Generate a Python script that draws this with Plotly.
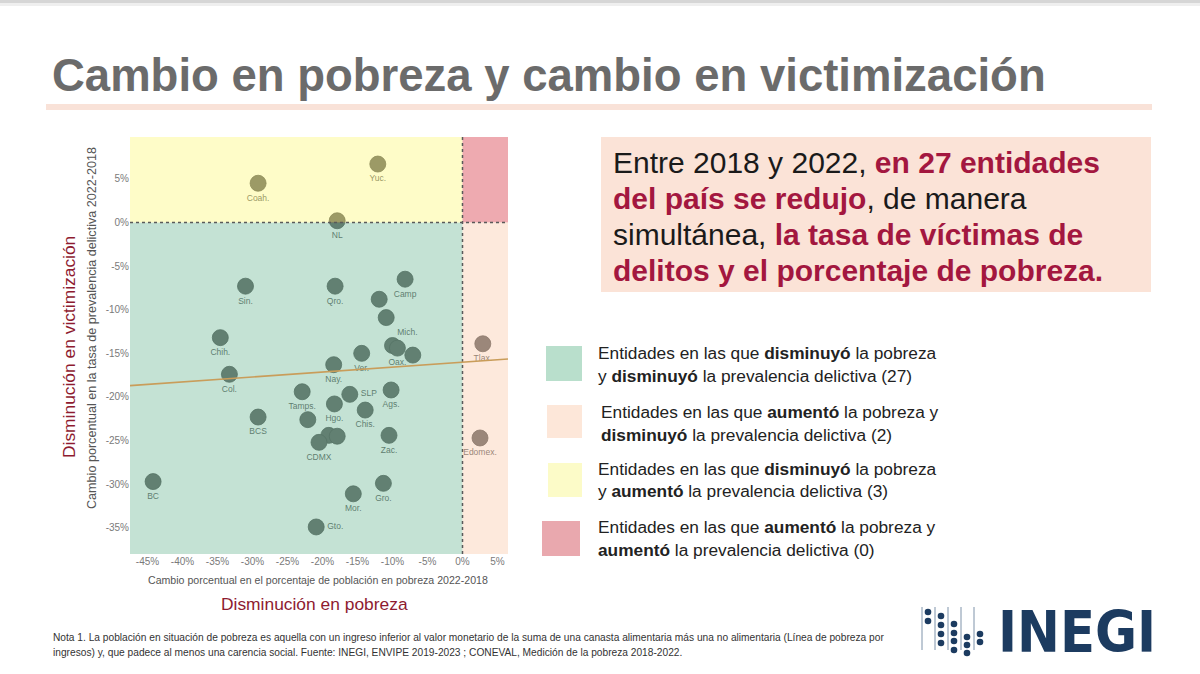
import plotly.graph_objects as go

W, H = 1200, 674

# ---------------- data ----------------
states = ["Coah.", "Yuc.", "NL", "Sin.", "Qro.", "Camp", "", "Mich.", "Chih.", "",
          "Oax.", "", "Ver.", "Nay.", "Col.", "Tamps.", "SLP", "Ags.", "Hgo.", "Chis.",
          "BCS", "", "Zac.", "", "", "CDMX", "BC", "Mor.", "Gro.", "Gto.",
          "Tlax.", "Edomex."]
pobreza = [-29.2, -12.1, -17.9, -31.0, -18.2, -8.2, -11.9, -10.9, -34.6, -10.0,
           -9.3, -7.1, -14.4, -18.4, -33.3, -22.9, -16.1, -10.2, -18.3, -13.9,
           -29.2, -22.1, -10.5, -19.1, -17.9, -20.5, -44.2, -15.6, -11.3, -20.9,
           2.9, 2.5]
victim = [4.5, 6.7, 0.2, -7.3, -7.3, -6.5, -8.8, -10.9, -13.2, -14.1,
          -14.4, -15.2, -15.0, -16.3, -17.4, -19.4, -19.7, -19.2, -20.8, -21.5,
          -22.3, -22.6, -24.4, -24.4, -24.5, -25.2, -29.7, -31.1, -29.9, -34.9,
          -13.9, -24.7]

trend_x = [-47.5, 6.5]
trend_y = [-18.7, -15.65]

x_ticks = [-45, -40, -35, -30, -25, -20, -15, -10, -5, 0, 5]
x_tick_labels = ["-45%", "-40%", "-35%", "-30%", "-25%", "-20%", "-15%", "-10%", "-5%", "0%", "5%"]
y_ticks = [5, 0, -5, -10, -15, -20, -25, -30, -35]
y_tick_labels = ["5%", "0%", "-5%", "-10%", "-15%", "-20%", "-25%", "-30%", "-35%"]

legend_counts = [27, 2, 3, 0]

x_range = [-47.5, 6.5]
y_range = [-38.0, 9.8]

# ---------------- helpers ----------------
def px(x):
    return x / W

def py(y):
    return 1 - y / H

label_pos = {"SLP": "middle right", "Gto.": "middle right", "Mich.": "bottom right"}
text_positions = [label_pos.get(s, "bottom center") for s in states]

RED = "#a3173f"
DARKRED = "#8e1b30"

fig = go.Figure()

fig.add_trace(go.Scatter(
    x=pobreza, y=victim, mode="markers+text", text=states,
    textposition=text_positions,
    textfont=dict(family="Arial, Liberation Sans", size=8.5, color="#333333"),
    marker=dict(size=16, color="#3a3a3a", line=dict(color="#222222", width=0.8)),
    hoverinfo="text", showlegend=False, cliponaxis=False,
))

shapes = []
# quadrant overlays (semi-transparent, above markers)
quads = [
    (x_range[0], 0, y_range[0], 0, "rgba(137,197,169,0.5)"),
    (x_range[0], 0, 0, y_range[1], "rgba(253,249,145,0.5)"),
    (0, x_range[1], 0, y_range[1], "rgba(221,85,97,0.5)"),
    (0, x_range[1], y_range[0], 0, "rgba(251,211,185,0.5)"),
]
for x0, x1, y0, y1, c in quads:
    shapes.append(dict(type="rect", xref="x", yref="y", x0=x0, x1=x1, y0=y0, y1=y1,
                       fillcolor=c, line=dict(width=0), layer="above"))
# dotted zero lines
shapes.append(dict(type="line", xref="x", yref="y", x0=0, x1=0, y0=y_range[0], y1=y_range[1],
                   line=dict(color="#5a5a5a", width=1.5, dash="dot"), layer="above"))
shapes.append(dict(type="line", xref="x", yref="y", x0=x_range[0], x1=x_range[1], y0=0, y1=0,
                   line=dict(color="#5a5a5a", width=1.5, dash="dot"), layer="above"))
# trend line
shapes.append(dict(type="line", xref="x", yref="y", x0=trend_x[0], x1=trend_x[1],
                   y0=trend_y[0], y1=trend_y[1],
                   line=dict(color="#c99d5a", width=1.6), layer="above"))

# top shadow and title underline
shapes.append(dict(type="rect", xref="paper", yref="paper", x0=0, x1=1, y0=py(3), y1=py(0),
                   fillcolor="#d6d6d6", line=dict(width=0), layer="below"))
shapes.append(dict(type="rect", xref="paper", yref="paper", x0=0, x1=1, y0=py(6), y1=py(3),
                   fillcolor="#efefef", line=dict(width=0), layer="below"))
shapes.append(dict(type="rect", xref="paper", yref="paper", x0=px(46), x1=px(1152),
                   y0=py(110), y1=py(104), fillcolor="#f9e2d8", line=dict(width=0), layer="below"))
# highlighted text box
shapes.append(dict(type="rect", xref="paper", yref="paper", x0=px(601), x1=px(1151),
                   y0=py(292), y1=py(137), fillcolor="#fbe3d7", line=dict(width=0), layer="below"))

# legend squares
legend_boxes = [
    (546, 582, 346, 381, "#b9dfcc"),
    (547, 582, 405, 438, "#fde7d9"),
    (548, 582, 463, 497, "#fcfbc8"),
    (542, 580, 521, 556, "#e9a8ae"),
]
for x0, x1, y0, y1, c in legend_boxes:
    shapes.append(dict(type="rect", xref="paper", yref="paper", x0=px(x0), x1=px(x1),
                       y0=py(y1), y1=py(y0), fillcolor=c, line=dict(width=0), layer="below"))

# INEGI logo pattern
logo_lines_x = [922, 935, 948, 961, 974]
for lx in logo_lines_x:
    shapes.append(dict(type="line", xref="paper", yref="paper", x0=px(lx), x1=px(lx),
                       y0=py(650), y1=py(607), line=dict(color="#7f93aa", width=1)))
logo_dots = [(928, 612), (928, 621),
             (941, 616), (941, 625), (941, 634), (941, 643),
             (954, 624), (954, 633), (954, 641), (954, 650),
             (967, 637), (967, 645), (967, 653),
             (980, 634), (980, 642)]
for dx, dy in logo_dots:
    r = 3.3
    shapes.append(dict(type="circle", xref="paper", yref="paper",
                       x0=px(dx - r), x1=px(dx + r), y0=py(dy + r), y1=py(dy - r),
                       fillcolor="#1c3b60", line=dict(width=0)))

annotations = []

def ann(text, x, y, size, color="#222222", xanchor="left", yanchor="middle", family="Arial, Liberation Sans", angle=0):
    annotations.append(dict(text=text, x=px(x), y=py(y), xref="paper", yref="paper",
                            showarrow=False, xanchor=xanchor, yanchor=yanchor, textangle=angle,
                            font=dict(family=family, size=size, color=color)))

# title
ann("<b>Cambio en pobreza y cambio en victimización</b>", 50, 75, 45.5, color="#6b6b6b")

# axis titles
ann("Cambio porcentual en el porcentaje de población en pobreza 2022-2018", 318, 580, 10.6,
    color="#555555", xanchor="center")
ann("Disminución en pobreza", 314, 604, 17.4, color=DARKRED, xanchor="center")
ann("Cambio porcentual en la tasa de prevalencia delictiva 2022-2018", 92, 328, 12.6,
    color="#555555", xanchor="center", angle=-90)
ann("Disminución en victimización", 69, 347, 17.4, color=DARKRED, xanchor="center", angle=-90)

# highlighted statement
def red(t):
    return "<b><span style='color:%s'>%s</span></b>" % (RED, t)

box_lines = [
    "Entre 2018 y 2022, " + red("en 27 entidades"),
    red("del país se redujo") + ", de manera",
    "simultánea, " + red("la tasa de víctimas de"),
    red("delitos y el porcentaje de pobreza."),
]
for i, t in enumerate(box_lines):
    ann(t, 611, 163 + i * 35.7, 30, color="#1a1a1a")

# legend text
legend_text = [
    ("Entidades en las que <b>disminuyó</b> la pobreza",
     "y <b>disminuyó</b> la prevalencia delictiva (%d)" % legend_counts[0], 596, 353),
    ("Entidades en las que <b>aumentó</b> la pobreza y",
     "<b>disminuyó</b> la prevalencia delictiva (%d)" % legend_counts[1], 599, 412),
    ("Entidades en las que <b>disminuyó</b> la pobreza",
     "y <b>aumentó</b> la prevalencia delictiva (%d)" % legend_counts[2], 596, 469),
    ("Entidades en las que <b>aumentó</b> la pobreza y",
     "<b>aumentó</b> la prevalencia delictiva (%d)" % legend_counts[3], 596, 527),
]
for l1, l2, lx, ly in legend_text:
    ann(l1, lx, ly, 17.3, color="#222222")
    ann(l2, lx, ly + 22.5, 17.3, color="#222222")

# footnote
ann("Nota 1. La población en situación de pobreza es aquella con un ingreso inferior al valor monetario de la suma de una canasta alimentaria más una no alimentaria (Línea de pobreza por",
    51, 637, 10.2, color="#333333")
ann("ingresos) y, que padece al menos una carencia social. Fuente: INEGI, ENVIPE 2019-2023 ; CONEVAL, Medición de la pobreza 2018-2022.",
    51, 652, 10.2, color="#333333")

# INEGI wordmark
ann("<b>INEGI</b>", 996, 632, 57, color="#1c3b60",
    family="Liberation Sans Narrow, DejaVu Sans Condensed, Arial Narrow, sans-serif")

fig.update_layout(
    width=W, height=H, autosize=False,
    margin=dict(l=0, r=0, t=0, b=0),
    paper_bgcolor="white", plot_bgcolor="white",
    showlegend=False,
    shapes=shapes, annotations=annotations,
    xaxis=dict(domain=[px(130), px(508)], range=x_range, tickvals=x_ticks, ticktext=x_tick_labels,
               showgrid=False, zeroline=False, showline=False, ticks="",
               tickfont=dict(family="Arial, Liberation Sans", size=10, color="#7a7a7a"),
               fixedrange=True),
    yaxis=dict(domain=[py(554), py(137)], range=y_range, tickvals=y_ticks, ticktext=y_tick_labels,
               showgrid=False, zeroline=False, showline=False, ticks="",
               tickfont=dict(family="Arial, Liberation Sans", size=10, color="#7a7a7a"),
               fixedrange=True),
)

fig.write_html("out.html")
